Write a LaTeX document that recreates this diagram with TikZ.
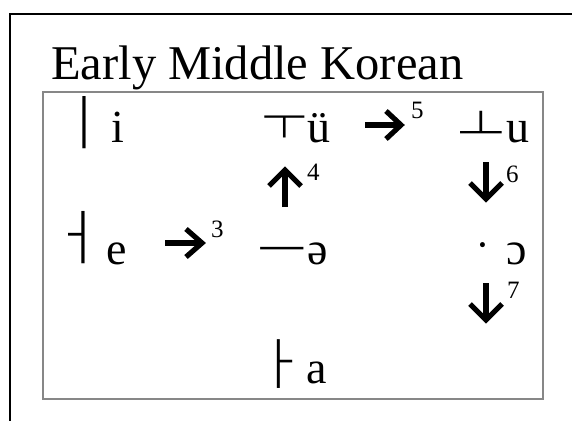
\documentclass[tikz,border=0pt]{standalone}
\usepackage{fontspec}
\setmainfont{Liberation Serif}
\IfFontExistsTF{Noto Sans CJK KR Light}
  {\newfontfamily\kofont{Noto Sans CJK KR Light}}
  {\IfFontExistsTF{Noto Sans CJK KR DemiLight}
    {\newfontfamily\kofont{Noto Sans CJK KR DemiLight}}
    {\newfontfamily\kofont{Noto Sans CJK KR}}}
\newcommand\kvowel[5]{\makebox[#3pt][c]{\raisebox{#5pt}{\kofont\fontsize{#1}{60}\selectfont #2}}#4}
\begin{document}
\begin{tikzpicture}[x=1pt,y=-1pt,
  vw/.style={inner sep=0pt, anchor=base west, font=\fontsize{46}{50}\selectfont},
  supnum/.style={inner sep=0pt, anchor=base west, font=\fontsize{25}{28}\selectfont},
  arw/.style={line width=5.2pt, line join=miter, line cap=butt},
  framebox/.style={line width=2pt, draw=black},
  graybox/.style={line width=2.8pt, draw={rgb,255:red,135;green,135;blue,135}}
]
\useasboundingbox (0,0) rectangle (572,420);
\fill[white] (0,0) rectangle (572,420);
\begin{scope}
  \clip (0,0) rectangle (572,420);
  \draw[framebox] (590,14) -- (10,14) -- (10,440);
\end{scope}
\draw[graybox] (43,92) rectangle (543,399);
\node[inner sep=0pt, anchor=base west, font=\fontsize{48.5}{52}\selectfont] (title) at (51,79) {Early Middle Korean};
% row 1
\node[vw] (vi) at (57,142) {\kvowel{60}{ㅣ}{54}{i}{-2}};
\node[vw] (vy) at (261,142) {\kvowel{50}{ㅜ}{46}{ü}{1}};
\node[supnum] (n5) at (411,118) {5};
\node[vw] (vu) at (456,142) {\kvowel{52}{ㅗ}{50}{u}{-2}};
% row 2
\node[supnum] (n4) at (307,180) {4};
\node[supnum] (n6) at (506,182) {6};
\node[vw] (ve) at (50,264) {\kvowel{60}{ㅓ}{56}{e}{5}};
\node[supnum] (n3) at (211,237) {3};
\node[vw] (vschwa) at (257,264) {\kvowel{54}{ㅡ}{50}{ə}{-5}};
\node[vw] (vo) at (458,264) {\kvowel{50}{ㆍ}{48}{ɔ}{1}};
\node[supnum] (n7) at (507,298) {7};
% row 3
\node[vw] (va) at (254,383) {\kvowel{56}{ㅏ}{52}{a}{-1}};
% arrows
\draw[arw] (365,125) -- (400,125);
\draw[arw] (386,111) -- (401,125) -- (386,139);
\draw[arw] (165,243) -- (200,243);
\draw[arw] (186,229) -- (202,243) -- (186,257);
\draw[arw] (285,207) -- (285,172);
\draw[arw] (269,186) -- (285,170) -- (301,186);
\draw[arw] (486,162) -- (486,197);
\draw[arw] (470,183) -- (486,199) -- (502,183);
\draw[arw] (486,283) -- (486,318);
\draw[arw] (470,304) -- (486,320) -- (502,304);
\end{tikzpicture}
\end{document}
